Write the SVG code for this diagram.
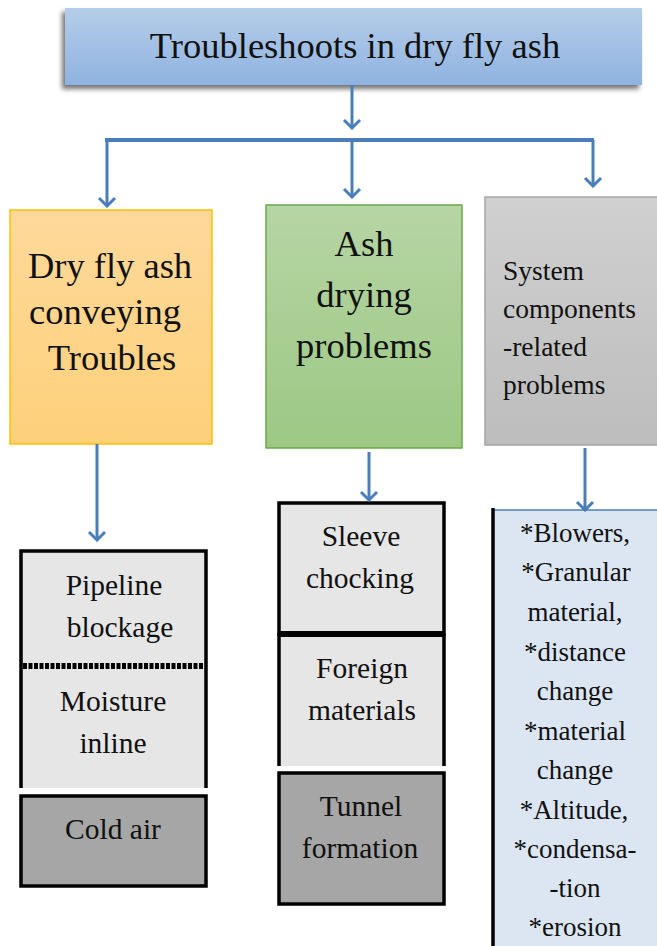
<svg xmlns="http://www.w3.org/2000/svg" width="657" height="946" viewBox="0 0 657 946">
<defs>
<linearGradient id="gBlue" x1="0" y1="0" x2="0" y2="1"><stop offset="0" stop-color="#b5cde9"/><stop offset="1" stop-color="#8fb3e0"/></linearGradient>
<linearGradient id="gOr" x1="0" y1="0" x2="0" y2="1"><stop offset="0" stop-color="#fed99a"/><stop offset="1" stop-color="#fdd07a"/></linearGradient>
<linearGradient id="gGr" x1="0" y1="0" x2="0" y2="1"><stop offset="0" stop-color="#b6d5a4"/><stop offset="1" stop-color="#9cc884"/></linearGradient>
<linearGradient id="gGy" x1="0" y1="0" x2="0" y2="1"><stop offset="0" stop-color="#d0d0d0"/><stop offset="1" stop-color="#bdbdbd"/></linearGradient>
<filter id="sh" x="-5%" y="-20%" width="110%" height="150%"><feDropShadow dx="-3" dy="4" stdDeviation="2.5" flood-color="#000" flood-opacity="0.55"/></filter>
<marker id="ah" markerUnits="userSpaceOnUse" markerWidth="14" markerHeight="20" refX="12" refY="10" orient="auto" viewBox="0 0 14 20">
<path d="M4,2 L12,10 L4,18" fill="none" stroke="#4a7ebb" stroke-width="3"/>
</marker>
</defs>

<g id="top">
<rect x="65" y="8" width="577" height="77" fill="url(#gBlue)" filter="url(#sh)"/>
<text x="355" y="58" font-family="Liberation Serif" font-size="36.5" text-anchor="middle" fill="#111">Troubleshoots in dry fly ash</text>
</g>

<g id="n-conveying" font-size="36.5" text-anchor="middle" fill="#111">
<rect x="10" y="210" width="202" height="234" fill="url(#gOr)" stroke="#ffc000" stroke-width="1.5"/>
<text x="110" y="278" font-family="Liberation Serif">Dry fly ash</text>
<text x="105" y="324" font-family="Liberation Serif">conveying</text>
<text x="112" y="370" font-family="Liberation Serif">Troubles</text>
</g>

<g id="n-drying" font-size="36.5" text-anchor="middle" fill="#111">
<rect x="266" y="205" width="196" height="243" fill="url(#gGr)" stroke="#6aaa48" stroke-width="1.5"/>
<text x="364" y="256" font-family="Liberation Serif">Ash</text>
<text x="364" y="307" font-family="Liberation Serif">drying</text>
<text x="364" y="358" font-family="Liberation Serif">problems</text>
</g>

<g id="n-system" font-size="27.5" fill="#111">
<rect x="485" y="197" width="180" height="248" fill="url(#gGy)" stroke="#a5a5a5" stroke-width="1.5"/>
<text x="503" y="280" font-family="Liberation Serif">System</text>
<text x="503" y="318" font-family="Liberation Serif">components</text>
<text x="503" y="356" font-family="Liberation Serif">-related</text>
<text x="503" y="394" font-family="Liberation Serif">problems</text>
</g>

<g id="n-left-stack" font-size="29.5" text-anchor="middle" fill="#111">
<g id="n-pipeline">
<rect x="21" y="551" width="185" height="237" fill="#e6e6e6"/>
<path d="M21,788 V551 H206 V788" fill="none" stroke="#000" stroke-width="3.5"/>
<text x="114" y="595" font-family="Liberation Serif">Pipeline</text>
<text x="120" y="637" font-family="Liberation Serif">blockage</text>
<path d="M23,666 H204" stroke="#000" stroke-width="6" stroke-dasharray="4 1.5" fill="none"/>
</g>
<g id="n-moisture">
<text x="113" y="711" font-family="Liberation Serif">Moisture</text>
<text x="113" y="753" font-family="Liberation Serif">inline</text>
</g>
<g id="n-coldair">
<rect x="21" y="796" width="185" height="90" fill="#a6a6a6" stroke="#000" stroke-width="3.5"/>
<text x="113" y="839" font-family="Liberation Serif">Cold air</text>
</g>
</g>

<g id="n-mid-stack" font-size="29.5" text-anchor="middle" fill="#111">
<g id="n-sleeve">
<rect x="279" y="503" width="165" height="131" fill="#e6e6e6" stroke="#000" stroke-width="3.5"/>
<text x="361" y="546" font-family="Liberation Serif">Sleeve</text>
<text x="360" y="588" font-family="Liberation Serif">chocking</text>
</g>
<g id="n-foreign">
<rect x="279" y="634" width="165" height="132" fill="#e6e6e6"/>
<path d="M279,766 V635 H444 V766" fill="none" stroke="#000" stroke-width="3.5"/>
<path d="M279,634 H444" stroke="#000" stroke-width="6"/>
<text x="362" y="678" font-family="Liberation Serif">Foreign</text>
<text x="362" y="720" font-family="Liberation Serif">materials</text>
</g>
<g id="n-tunnel">
<rect x="279" y="773" width="165" height="131" fill="#a6a6a6" stroke="#000" stroke-width="3.5"/>
<text x="361" y="816" font-family="Liberation Serif">Tunnel</text>
<text x="360" y="858" font-family="Liberation Serif">formation</text>
</g>
</g>

<g id="n-components-list" font-size="27" text-anchor="middle" fill="#111">
<rect x="493" y="510" width="170" height="440" fill="#dce6f2"/>
<path d="M493,510 H657" stroke="#4a7ebb" stroke-width="1.5"/>
<path d="M493,508 V946" stroke="#000" stroke-width="3.5"/>
<text x="575" y="542" font-family="Liberation Serif">*Blowers,</text>
<text x="576" y="581" font-family="Liberation Serif">*Granular</text>
<text x="575" y="621" font-family="Liberation Serif">material,</text>
<text x="575" y="661" font-family="Liberation Serif">*distance</text>
<text x="575" y="700" font-family="Liberation Serif">change</text>
<text x="575" y="740" font-family="Liberation Serif">*material</text>
<text x="575" y="779" font-family="Liberation Serif">change</text>
<text x="574" y="819" font-family="Liberation Serif">*Altitude,</text>
<text x="575" y="858" font-family="Liberation Serif">*condensa-</text>
<text x="575" y="897" font-family="Liberation Serif">-tion</text>
<text x="575" y="936" font-family="Liberation Serif">*erosion</text>
</g>

<g id="connectors" fill="none" stroke="#4a7ebb" stroke-width="3">
<path d="M352,85 V128" marker-end="url(#ah)"/>
<path d="M105,140 H594" stroke-width="4"/>
<path d="M107,140 V206" marker-end="url(#ah)"/>
<path d="M352,140 V197" marker-end="url(#ah)"/>
<path d="M593,140 V186" marker-end="url(#ah)"/>
<path d="M97,444 V540" marker-end="url(#ah)"/>
<path d="M369,452 V500" marker-end="url(#ah)"/>
<path d="M585,448 V510" marker-end="url(#ah)"/>
</g>
</svg>
